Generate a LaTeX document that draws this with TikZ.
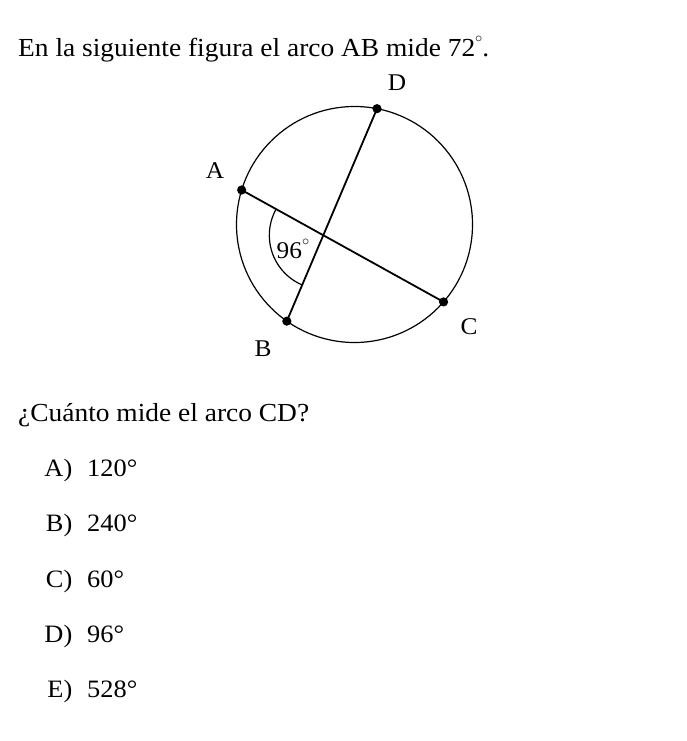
\documentclass[tikz,border=0pt]{standalone}
\usepackage{fontspec}
\setmainfont[FakeStretch=1.055]{Liberation Serif}
\usetikzlibrary{angles}
\begin{document}
\begin{tikzpicture}[x=1pt,y=1pt,
  txt/.style={inner sep=0pt,anchor=base west,font=\fontsize{26}{30}\selectfont},
  ans/.style={inner sep=0pt,anchor=base west,font=\fontsize{25}{29}\selectfont},
  lbl/.style={inner sep=0pt,font=\fontsize{24}{28}\selectfont},
  dotpt/.style={fill=black,draw=none},
  chord/.style={line width=1.8pt},
  circ/.style={line width=1.2pt}]
\useasboundingbox (0,0) rectangle (687,-741);
\node[txt] (title) at (18,-57) {En la siguiente figura el arco AB mide 72\raisebox{1.25ex}{\fontsize{15}{16}\selectfont$\circ$}.};
\coordinate (O) at (354.5,-224.5);
\coordinate (A) at ([shift={(163:118)}]O);
\coordinate (B) at ([shift={(235:118)}]O);
\coordinate (C) at ([shift={(-41:118)}]O);
\coordinate (D) at ([shift={(79:118)}]O);
\coordinate (X) at (intersection of A--C and B--D);
\draw[circ] (O) circle[radius=118];
\draw[chord] (A) -- (C);
\draw[chord] (B) -- (D);
\pic[draw,line width=1.2pt,angle radius=54] {angle=A--X--B};
\foreach \p in {A,B,C,D} \fill[dotpt] (\p) circle[radius=4.6];
\node[lbl] (lA) at (215,-171) {A};
\node[lbl] (lB) at (263,-349) {B};
\node[lbl] (lC) at (469,-327) {C};
\node[lbl] (lD) at (397,-83) {D};
\node[lbl] (ang) at (293,-249) {96\raisebox{1.2ex}{\fontsize{15}{16}\selectfont$\circ$}};
\node[txt] (q) at (18,-421) {¿Cuánto mide el arco CD?};
\node[ans,anchor=base east] (a1) at (72.5,-476) {A)};
\node[ans] (v1) at (87,-476) {120°};
\node[ans,anchor=base east] (a2) at (72.5,-531.5) {B)};
\node[ans] (v2) at (87,-531.5) {240°};
\node[ans,anchor=base east] (a3) at (72.5,-587) {C)};
\node[ans] (v3) at (87,-587) {60°};
\node[ans,anchor=base east] (a4) at (72.5,-642.5) {D)};
\node[ans] (v4) at (87,-642.5) {96°};
\node[ans,anchor=base east] (a5) at (72.5,-697) {E)};
\node[ans] (v5) at (87,-697) {528°};
\end{tikzpicture}
\end{document}
